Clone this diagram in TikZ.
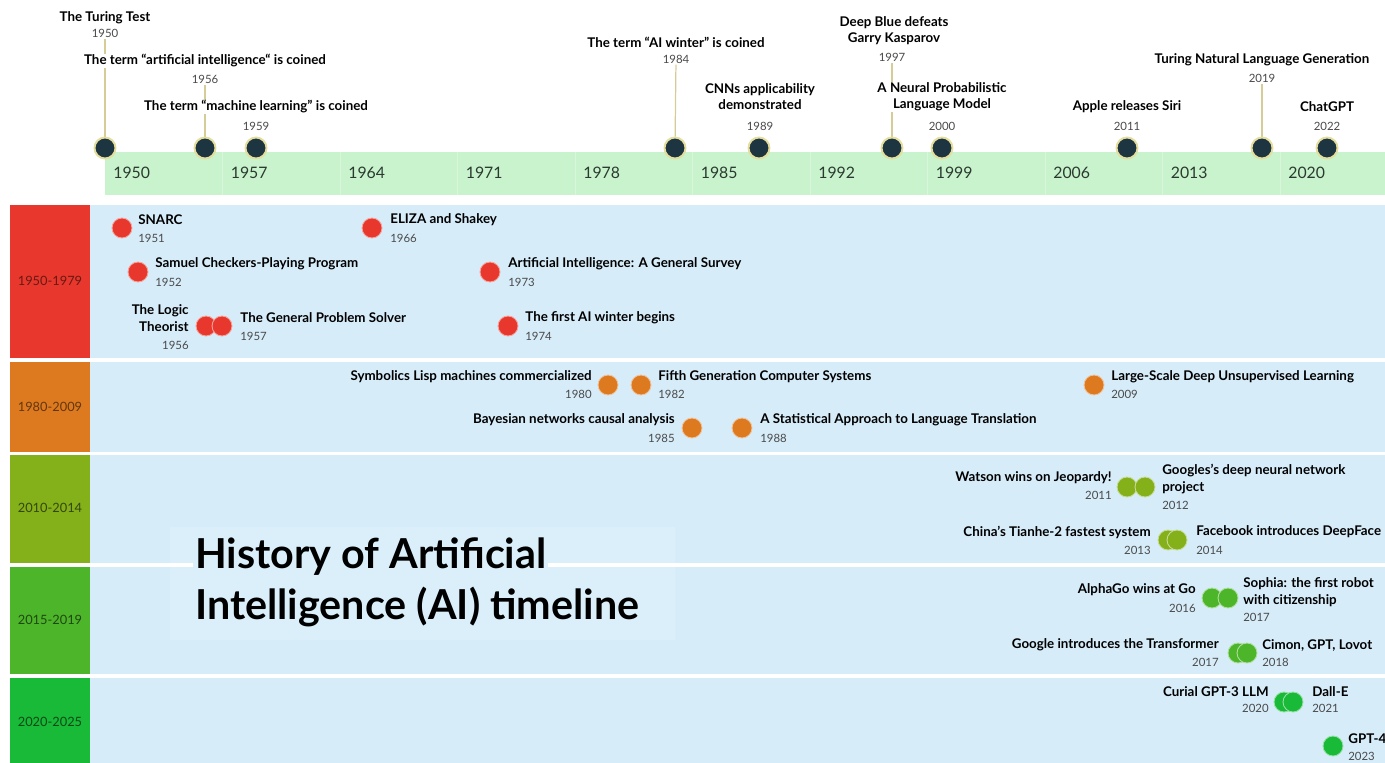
\documentclass[tikz,border=0pt]{standalone}
\usepackage{fontspec}
\setmainfont{Lato}
\usetikzlibrary{positioning,backgrounds}

\definecolor{bandgreen}{HTML}{C9F3CC}
\definecolor{bandblue}{HTML}{D6ECF9}
\definecolor{titlebox}{HTML}{DAEFFA}
\definecolor{markfill}{HTML}{1D3441}
\definecolor{markring}{HTML}{E4DD9C}
\definecolor{leadcol}{HTML}{D6CC98}
\definecolor{yeargray}{HTML}{4A4A4A}
\definecolor{axistext}{HTML}{2A3A30}
\definecolor{redcell}{HTML}{E8382D}
\definecolor{orangecell}{HTML}{DD7A20}
\definecolor{olivecell}{HTML}{84B01A}
\definecolor{greencell}{HTML}{4DB52A}
\definecolor{limecell}{HTML}{18BA38}

\begin{document}
\begin{tikzpicture}[x=0.02cm, y=-0.02cm,
  evt/.style={font=\bfseries\fontsize{7.6}{9}\selectfont, fill=white, inner sep=0.6pt, align=center},
  yr/.style={font=\fontsize{6.5}{7.5}\selectfont, text=yeargray, fill=white, inner sep=0.6pt},
  milestone/.style={circle, fill=markfill, draw=markring, line width=1.1pt, minimum size=0.42cm, inner sep=0pt},
  leader/.style={draw=leadcol, line width=0.7pt},
  axislbl/.style={font=\fontsize{9}{10}\selectfont, text=axistext, anchor=west, inner sep=0pt},
  period/.style={font=\fontsize{7.3}{8}\selectfont, inner sep=0pt},
  dot/.style={circle, fill=#1, draw=#1!45!white, line width=0.5pt, minimum size=0.4cm, inner sep=0pt},
  rtitle/.style={font=\bfseries\fontsize{7.6}{9.4}\selectfont, inner sep=0pt},
  ryear/.style={font=\fontsize{6.5}{7.5}\selectfont, text=yeargray, inner sep=0pt},
  bigtitle/.style={font=\bfseries\fontsize{23.5}{28}\selectfont, fill=titlebox, inner sep=1pt, anchor=west}
]
\useasboundingbox (0,0) rectangle (1385,763);

% year axis
\fill[bandgreen] (105,152) rectangle (1385,195);
\draw[white, opacity=0.3, line width=0.5pt] (222.5,152) -- (222.5,195);
\draw[white, opacity=0.3, line width=0.5pt] (340,152) -- (340,195);
\draw[white, opacity=0.3, line width=0.5pt] (457.5,152) -- (457.5,195);
\draw[white, opacity=0.3, line width=0.5pt] (575,152) -- (575,195);
\draw[white, opacity=0.3, line width=0.5pt] (692.5,152) -- (692.5,195);
\draw[white, opacity=0.3, line width=0.5pt] (810,152) -- (810,195);
\draw[white, opacity=0.3, line width=0.5pt] (927.5,152) -- (927.5,195);
\draw[white, opacity=0.3, line width=0.5pt] (1045,152) -- (1045,195);
\draw[white, opacity=0.3, line width=0.5pt] (1162.5,152) -- (1162.5,195);
\draw[white, opacity=0.3, line width=0.5pt] (1280,152) -- (1280,195);

\node[axislbl] (a1950) at (113,173) {1950};
\node[axislbl] (a1957) at (230.5,173) {1957};
\node[axislbl] (a1964) at (348,173) {1964};
\node[axislbl] (a1971) at (465.5,173) {1971};
\node[axislbl] (a1978) at (583,173) {1978};
\node[axislbl] (a1985) at (700.5,173) {1985};
\node[axislbl] (a1992) at (818,173) {1992};
\node[axislbl] (a1999) at (935.5,173) {1999};
\node[axislbl] (a2006) at (1053,173) {2006};
\node[axislbl] (a2013) at (1170.5,173) {2013};
\node[axislbl] (a2020) at (1288,173) {2020};

% milestones above the axis
\node[milestone] (m1950) at (105,148) {};
\node[milestone] (m1956) at (205,148) {};
\node[milestone] (m1959) at (256,148) {};
\node[milestone] (m1984) at (675,148) {};
\node[milestone] (m1989) at (759,148) {};
\node[milestone] (m1997) at (892,148) {};
\node[milestone] (m2000) at (942,148) {};
\node[milestone] (m2011) at (1127,148) {};
\node[milestone] (m2019) at (1262,148) {};
\node[milestone] (m2022) at (1327,148) {};

\node[evt] (t1950) at (105,18) {The Turing Test};
\node[yr] (y1950) at (105,33) {1950};
\node[evt] (t1956) at (205,61) {The term “artificial intelligence“ is coined};
\node[yr] (y1956) at (205,79) {1956};
\node[evt] (t1959) at (256,107) {The term “machine learning” is coined};
\node[yr] (y1959) at (256,126) {1959};
\node[evt] (t1984) at (676,42) {The term “AI winter” is coined};
\node[yr] (y1984) at (676,59) {1984};
\node[evt] (t1989) at (760,97) {CNNs applicability\\demonstrated};
\node[yr] (y1989) at (760,126) {1989};
\node[evt] (t1997) at (894,31) {Deep Blue defeats\\Garry Kasparov};
\node[yr] (y1997) at (892,57) {1997};
\node[evt] (t2000) at (942,97) {A Neural Probabilistic\\Language Model};
\node[yr] (y2000) at (942,126) {2000};
\node[evt] (t2011) at (1127,107) {Apple releases Siri};
\node[yr] (y2011) at (1127,126) {2011};
\node[evt] (t2019) at (1262,60) {Turing Natural Language Generation};
\node[yr] (y2019) at (1262,78) {2019};
\node[evt] (t2022) at (1327,107) {ChatGPT};
\node[yr] (y2022) at (1327,126) {2022};

\begin{scope}[on background layer]
\draw[leader] (y1950) -- (m1950);
\draw[leader] (y1956) -- (m1956);
\draw[leader] (y1984) -- (m1984);
\draw[leader] (y1997) -- (m1997);
\draw[leader] (y2019) -- (m2019);
\end{scope}

% period rows
\fill[bandblue] (90,205) rectangle (1385,763);
\fill[redcell] (10,205) rectangle (90,360);
\fill[orangecell] (10,360) rectangle (90,453.5);
\fill[olivecell] (10,453.5) rectangle (90,565);
\fill[greencell] (10,565) rectangle (90,676);
\fill[limecell] (10,676) rectangle (90,763);
\fill[titlebox] (170,527) rectangle (675,640);
\draw[white, line width=2pt] (10,360) -- (1385,360);
\draw[white, line width=1.7pt] (10,453.5) -- (1385,453.5);
\draw[white, line width=2pt] (10,565) -- (1385,565);
\draw[white, line width=2pt] (10,676) -- (1385,676);

\node[period, text=redcell!45!black] (p1) at (50,281) {1950-1979};
\node[period, text=orangecell!45!black] (p2) at (50,407) {1980-2009};
\node[period, text=olivecell!40!black] (p3) at (50,508) {2010-2014};
\node[period, text=greencell!40!black] (p4) at (50,620) {2015-2019};
\node[period, text=limecell!40!black] (p5) at (50,722) {2020-2025};

\node[bigtitle] (head1) at (193,557) {History of Artificial};
\node[bigtitle] (head2) at (193,607) {Intelligence (AI) timeline};

% 1950-1979
\node[dot=redcell] (d1951) at (122,228) {};
\node[rtitle, anchor=west] (e1951) at (138,220) {SNARC};
\node[ryear, anchor=west] (v1951) at (138,238) {1951};
\node[dot=redcell] (d1966) at (372,228) {};
\node[rtitle, anchor=west] (e1966) at (390,220) {ELIZA and Shakey};
\node[ryear, anchor=west] (v1966) at (390,238) {1966};
\node[dot=redcell] (d1952) at (138,272) {};
\node[rtitle, anchor=west] (e1952) at (155,264) {Samuel Checkers-Playing Program};
\node[ryear, anchor=west] (v1952) at (155,282) {1952};
\node[dot=redcell] (d1973) at (490,272) {};
\node[rtitle, anchor=west] (e1973) at (508,264) {Artificial Intelligence: A General Survey};
\node[ryear, anchor=west] (v1973) at (508,282) {1973};
\node[dot=redcell] (d1956) at (206,326) {};
\node[dot=redcell] (d1957) at (222,326) {};
\node[rtitle, anchor=east, align=right] (e1956) at (189,318) {The Logic\\Theorist};
\node[ryear, anchor=east] (v1956) at (189,345) {1956};
\node[rtitle, anchor=west] (e1957) at (240,318) {The General Problem Solver};
\node[ryear, anchor=west] (v1957) at (240,336) {1957};
\node[dot=redcell] (d1974) at (508,326) {};
\node[rtitle, anchor=west] (e1974) at (525,318) {The first AI winter begins};
\node[ryear, anchor=west] (v1974) at (525,336) {1974};

% 1980-2009
\node[dot=orangecell] (d1980) at (608,385) {};
\node[rtitle, anchor=east] (e1980) at (592,377) {Symbolics Lisp machines commercialized};
\node[ryear, anchor=east] (v1980) at (592,394) {1980};
\node[dot=orangecell] (d1982) at (641,385) {};
\node[rtitle, anchor=west] (e1982) at (658,377) {Fifth Generation Computer Systems};
\node[ryear, anchor=west] (v1982) at (658,394) {1982};
\node[dot=orangecell] (d1985) at (692,428) {};
\node[rtitle, anchor=east] (e1985) at (675,420) {Bayesian networks causal analysis};
\node[ryear, anchor=east] (v1985) at (675,438) {1985};
\node[dot=orangecell] (d1988) at (742,428) {};
\node[rtitle, anchor=west] (e1988) at (760,420) {A Statistical Approach to Language Translation};
\node[ryear, anchor=west] (v1988) at (760,438) {1988};
\node[dot=orangecell] (d2009) at (1094,385) {};
\node[rtitle, anchor=west] (e2009) at (1111,377) {Large-Scale Deep Unsupervised Learning};
\node[ryear, anchor=west] (v2009) at (1111,394) {2009};

% 2010-2014
\node[dot=olivecell] (d2011) at (1127,487) {};
\node[dot=olivecell] (d2012) at (1145,487) {};
\node[rtitle, anchor=east] (e2011) at (1112,478) {Watson wins on Jeopardy!};
\node[ryear, anchor=east] (v2011) at (1112,495) {2011};
\node[rtitle, anchor=west, align=left] (e2012) at (1162,479) {Googles's deep neural network\\project};
\node[ryear, anchor=west] (v2012) at (1162,505) {2012};
\node[dot=olivecell] (d2013) at (1168,540) {};
\node[dot=olivecell] (d2014) at (1177,540) {};
\node[rtitle, anchor=east] (e2013) at (1151,532) {China's Tianhe-2 fastest system};
\node[ryear, anchor=east] (v2013) at (1151,550) {2013};
\node[rtitle, anchor=west] (e2014) at (1196,532) {Facebook introduces DeepFace};
\node[ryear, anchor=west] (v2014) at (1196,550) {2014};

% 2015-2019
\node[dot=greencell] (d2016) at (1212,598) {};
\node[dot=greencell] (d2017a) at (1228,598) {};
\node[rtitle, anchor=east] (e2016) at (1196,590) {AlphaGo wins at Go};
\node[ryear, anchor=east] (v2016) at (1196,608) {2016};
\node[rtitle, anchor=west, align=left] (e2017a) at (1243,592) {Sophia: the first robot\\with citizenship};
\node[ryear, anchor=west] (v2017a) at (1243,617) {2017};
\node[dot=greencell] (d2017b) at (1238,653) {};
\node[dot=greencell] (d2018) at (1247,653) {};
\node[rtitle, anchor=east] (e2017b) at (1219,645) {Google introduces the Transformer};
\node[ryear, anchor=east] (v2017b) at (1219,662) {2017};
\node[rtitle, anchor=west] (e2018) at (1262,645) {Cimon, GPT, Lovot};
\node[ryear, anchor=west] (v2018) at (1262,662) {2018};

% 2020-2025
\node[dot=limecell] (d2020) at (1284,702) {};
\node[dot=limecell] (d2021) at (1293,702) {};
\node[rtitle, anchor=east] (e2020) at (1269,692) {Curial GPT-3 LLM};
\node[ryear, anchor=east] (v2020) at (1269,708) {2020};
\node[rtitle, anchor=west] (e2021) at (1312,692) {Dall-E};
\node[ryear, anchor=west] (v2021) at (1312,708) {2021};
\node[dot=limecell] (d2023) at (1333,746) {};
\node[rtitle, anchor=west] (e2023) at (1348,739) {GPT-4};
\node[ryear, anchor=west] (v2023) at (1348,756) {2023};
\end{tikzpicture}
\end{document}
